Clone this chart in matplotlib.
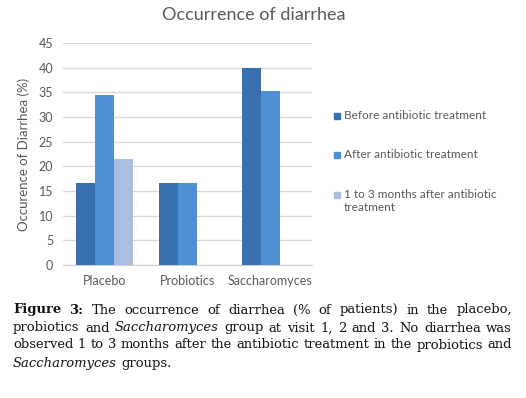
import numpy as np
import matplotlib
matplotlib.use("Agg")
import matplotlib.pyplot as plt
from matplotlib.patches import Rectangle

# --------------------------
# Data
# --------------------------
categories = ["Placebo", "Probiotics", "Saccharomyces"]
before = [16.7, 16.7, 40.0]
after = [34.4, 16.7, 35.3]
later = [21.4, 0.0, 0.0]
series_labels = ["Before antibiotic treatment",
                 "After antibiotic treatment",
                 "1 to 3 months after antibiotic\ntreatment"]
yticks = [0, 5, 10, 15, 20, 25, 30, 35, 40, 45]

colors = ["#3b70ae", "#4f8fd3", "#a9bfdf"]
gray = "#595959"
sans = "Lato"
serif = "DejaVu Serif"

W, H = 526, 398
fig = plt.figure(figsize=(W / 100, H / 100), dpi=100)
ax = fig.add_axes([63 / W, 1 - 265 / H, (312 - 63) / W, (265 - 43) / H])

# --------------------------
# Bars
# --------------------------
x = np.arange(len(categories))
bw = 0.228
for i, vals in enumerate([before, after, later]):
    ax.bar(x + (i - 1) * bw, vals, width=bw, color=colors[i], zorder=3)

ax.set_xlim(-0.5, 2.5)
ax.set_ylim(0, 45)
ax.set_yticks(yticks)
ax.set_xticks(x)
ax.set_xticklabels(categories)
ax.yaxis.grid(True, color="#d9d9d9", lw=1, zorder=0)
for s in ["top", "right", "left"]:
    ax.spines[s].set_visible(False)
ax.spines["bottom"].set_color("#d0d0d0")
ax.tick_params(length=0, labelsize=9, labelcolor=gray, pad=7)
for lab in ax.get_xticklabels() + ax.get_yticklabels():
    lab.set_fontfamily(sans)
ax.set_ylabel("Occurence of Diarrhea (%)", fontsize=9.5, color=gray,
              fontfamily=sans, labelpad=6)

fig.text(254 / W, 1 - 15 / H, "Occurrence of diarrhea", ha="center",
         va="center", fontsize=13, color=gray, fontfamily=sans)

# --------------------------
# Legend (drawn by hand to match the layout)
# --------------------------
leg_y = [116, 155, 195]
for c, lab, yy in zip(colors, series_labels, leg_y):
    fig.patches.append(Rectangle((334 / W, 1 - (yy + 3) / H), 6 / W, 6 / H,
                                 transform=fig.transFigure, color=c))
    fig.text(344 / W, 1 - (yy - 6) / H, lab, ha="left", va="top",
             fontsize=8.5, color=gray, fontfamily=sans, linespacing=1.2)

# --------------------------
# Caption, justified word by word
# --------------------------
cap_lines = [
    [("Figure 3:", "bold"), ("The occurrence of diarrhea (% of patients) in the placebo,", "normal")],
    [("probiotics and", "normal"), ("Saccharomyces", "italic"),
     ("group at visit 1, 2 and 3. No diarrhea was", "normal")],
    [("observed 1 to 3 months after the antibiotic treatment in the probiotics and", "normal")],
    [("Saccharomyces", "italic"), ("groups.", "normal")],
]
cap_y = [310, 328, 345, 363]
x0, x1 = 13, 512

renderer = fig.canvas.get_renderer()

# size the font so that the tight third line fills the text width
probe = fig.text(0, 0, cap_lines[2][0][0], fontsize=10, fontfamily=serif)
fs = 10 * (x1 - x0) / probe.get_window_extent(renderer).width
probe.remove()

for li, (segs, yy) in enumerate(zip(cap_lines, cap_y)):
    words = []
    for txt, st in segs:
        for w in txt.split(" "):
            words.append((w, st))
    arts = []
    for w, st in words:
        t = fig.text(0, 1 - yy / H, w, ha="left", va="center", fontsize=fs,
                     fontfamily=serif, color="#111111",
                     fontweight="bold" if st == "bold" else "normal",
                     fontstyle="italic" if st == "italic" else "normal")
        arts.append(t)
    widths = [a.get_window_extent(renderer).width for a in arts]
    if li == len(cap_lines) - 1:
        gap = 4
    else:
        gap = (x1 - x0 - sum(widths)) / (len(arts) - 1)
    px = x0
    for a, wd in zip(arts, widths):
        a.set_x(px / W)
        px += wd + gap

fig.savefig("out.png", dpi=100)
